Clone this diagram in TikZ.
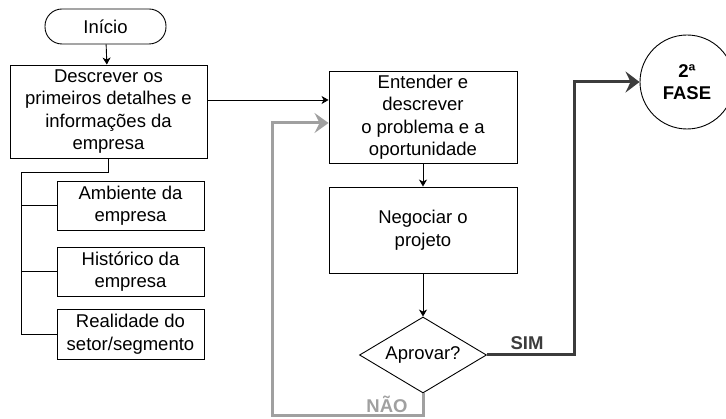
\documentclass[tikz,border=0pt]{standalone}
\usepackage{fontspec}
\setmainfont{Liberation Sans}
\usetikzlibrary{shapes.geometric,arrows.meta}
\tikzset{>={Stealth[length=7pt,width=8pt,inset=2pt]}}
\definecolor{fontgray}{RGB}{160,160,160}
\definecolor{fontdark}{RGB}{60,60,60}
\tikzset{
  caixa/.style={draw,line width=0.9pt,align=center,inner sep=0pt},
  terminal/.style={caixa,rounded corners=17pt,minimum width=121pt,minimum height=35pt},
  decisao/.style={caixa,diamond,aspect=1.67,minimum width=127pt,minimum height=76pt},
  fase/.style={caixa,circle,minimum size=94pt,font=\bfseries},
  seta/.style={->,line width=0.9pt},
  simline/.style={-{Stealth[length=14pt,width=21pt,inset=5pt]},line width=3pt,fontdark},
  naoline/.style={-{Stealth[length=14pt,width=20pt,inset=5pt]},line width=3pt,fontgray}
}

\begin{document}
\begin{tikzpicture}[x=1pt,y=-1pt]
\fontsize{18.5}{22.5}\selectfont
\useasboundingbox (0,0) rectangle (726,419);
\node[terminal] (inicio) at (105.5,26.5) {Início};
\node[caixa,minimum width=197pt,minimum height=93pt] (descrever) at (108.5,111.5) {Descrever os\\primeiros detalhes e\\informações da\\empresa};
\node[caixa,minimum width=147pt,minimum height=49pt] (ambiente) at (130.5,205.5) {Ambiente da\\empresa};
\node[caixa,minimum width=147pt,minimum height=49pt] (historico) at (130.5,271.5) {Histórico da\\empresa};
\node[caixa,minimum width=147pt,minimum height=50pt] (realidade) at (130.5,334) {Realidade do\\setor/segmento};
\node[caixa,minimum width=188pt,minimum height=92pt] (entender) at (423,117) {Entender e\\descrever\\o problema e a\\oportunidade};
\node[caixa,minimum width=188pt,minimum height=86pt] (negociar) at (423,230) {Negociar o\\projeto};
\node[decisao] (aprovar) at (423,355) {Aprovar?};
\node[fase] (segunda) at (687,82) {2ª\\FASE};
\node[font=\bfseries,text=fontdark] (sim) at (527,343) {SIM};
\node[font=\bfseries,text=fontgray] (nao) at (387,404) {NÃO};
% ligacoes
\coordinate (tronco) at (21,172);
\draw[seta] (inicio) -- (descrever);
\draw[seta] (descrever.east |- 0,100) -- (entender.west |- 0,100);
\draw[line width=0.9pt] (descrever.south) |- (tronco) |- (realidade.west);
\draw[line width=0.9pt] (tronco |- ambiente.west) -- (ambiente.west);
\draw[line width=0.9pt] (tronco |- historico.west) -- (historico.west);
\draw[seta] (entender) -- (negociar);
\draw[seta] (negociar) -- (aprovar);
\draw[simline] (aprovar.east) -| (574,0 |- segunda.west) -- (segunda.west);
\draw[naoline] (aprovar.south) |- (272,416) |- (entender.west |- 0,123);
\end{tikzpicture}
\end{document}
